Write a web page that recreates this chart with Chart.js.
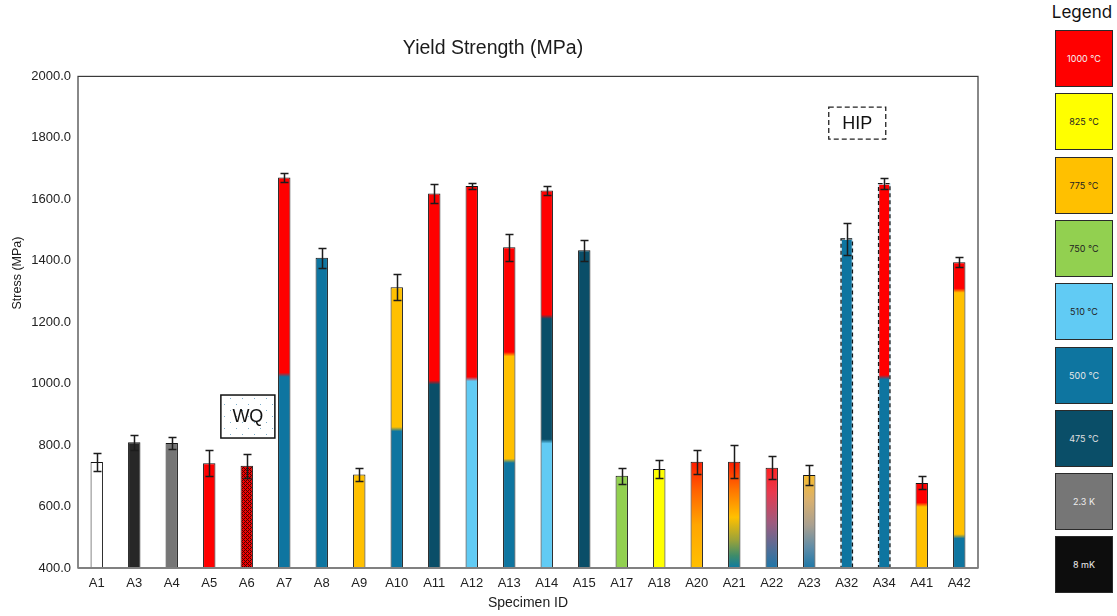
<!DOCTYPE html>
<html>
<head>
<meta charset="utf-8">
<script src="https://cdn.jsdelivr.net/npm/chart.js@4.4.1/dist/chart.umd.min.js"></script>
<style>
html,body{margin:0;padding:0;background:#fff;width:1117px;height:616px;overflow:hidden}
#wrap{position:absolute;left:0;top:0;width:985px;height:616px}
#legend{position:absolute;left:1055px;top:0;width:58px;height:616px}
#legend .hd{position:absolute;left:-16px;width:86px;top:2px;line-height:26px;text-align:center;font:17px Inter,"Noto Sans",sans-serif;color:#111}
#legend .sw{position:absolute;left:0;width:58px;height:57px;box-sizing:border-box;border:1.5px solid #2a2a2a;display:flex;align-items:center;justify-content:center;font:9px Inter,"Noto Sans",sans-serif}
</style>
</head>
<body>
<div id="wrap"><canvas id="chart" width="985" height="616"></canvas></div>
<div id="legend"><div class="hd">Legend</div></div>
<script>
const specimens = ['A1','A3','A4','A5','A6','A7','A8','A9','A10','A11','A12','A13','A14','A15','A17','A18','A20','A21','A22','A23','A32','A34','A41','A42']
const yieldMean = [745,809,807,741,733,1671,1410,704,1314,1619,1643,1444,1629,1434,700,722,746,746,726,703,1471,1651,677,1395]
const yieldErr  = [29,24,19,43,39,16,33,20,42,32,10,44,15,34,25,29,39,53,37,32,51,17,21,16]

// heat treatment layers, bottom to top, and the stress where one layer gives way to the next
const treatment = [
  ['none'],['8 mK'],['2.3 K'],['1000 °C'],['1000 °C'],
  ['500 °C','1000 °C'],['500 °C'],['775 °C'],['500 °C','775 °C'],['475 °C','1000 °C'],
  ['510 °C','1000 °C'],['500 °C','775 °C','1000 °C'],['510 °C','475 °C','1000 °C'],['475 °C'],
  ['750 °C'],['825 °C'],null,null,null,null,
  ['500 °C'],['500 °C','1000 °C'],['775 °C','1000 °C'],['500 °C','775 °C','1000 °C']
]
const treatmentBreaks = [
  [],[],[],[],[],
  [1029],[],[],[852],[1004],
  [1015],[749,1096],[812,1218],[],
  [],[],null,null,null,null,
  [],[1021],[606],[503,1303]
]
// specimens with a continuous colour blend: [stress, colour] from top to bottom
const blendStops = {
  A20: [[746,'#FF1A00'],[650,'#FF6400'],[540,'#FFA600'],[400,'#FFC000']],
  A21: [[746,'#FF1A00'],[655,'#FF7400'],[565,'#FFC000'],[490,'#9AA23A'],[440,'#3E8C6A'],[400,'#0E7AA3']],
  A22: [[726,'#FF2020'],[645,'#E83A50'],[545,'#9C5C80'],[460,'#4F6E98'],[400,'#1E76A8']],
  A23: [[703,'#F8BC2C'],[620,'#D8B070'],[540,'#AAA090'],[465,'#5E8CA8'],[400,'#1E78A8']]
}
const wqSpecimens = ['A6']
const hipSpecimens = ['A32','A34']

const legendLabels = ['1000 °C','825 °C','775 °C','750 °C','510 °C','500 °C','475 °C','2.3 K','8 mK']
const legendColors = ['#FF0000','#FFFF00','#FFC000','#92D050','#61CBF4','#0E75A0','#0A4E68','#767676','#0D0D0D']
const legendInk    = ['#f4f4f4','#222','#222','#222','#222','#e8e8e8','#e0e0e0','#eee','#eee']

const shades = {}
legendLabels.forEach((l,i)=>{ shades[l] = legendColors[i] })
shades['none'] = '#FFFFFF'
shades['8 mK'] = '#272727'

const FONT = '"Liberation Sans", Arial, sans-serif'

// legend column
const legendBox = document.getElementById('legend')
legendLabels.forEach((l,i)=>{
  const d = document.createElement('div')
  d.className = 'sw'
  d.style.top = Math.round(30 + i*63.3) + 'px'
  d.style.background = legendColors[i]
  d.style.color = legendInk[i]
  d.textContent = l
  legendBox.appendChild(d)
})

function wqPattern(){
  const c = document.createElement('canvas')
  c.width = 4
  c.height = 4
  const p = c.getContext('2d')
  p.fillStyle = '#F00000'
  p.fillRect(0,0,4,4)
  p.fillStyle = '#4a0000'
  const dots = [[0,0],[2,0],[1,1],[0,2],[2,2],[3,3]]
  dots.forEach(d => p.fillRect(d[0],d[1],1,1))
  return p.createPattern(c,'repeat')
}

function dotPattern(){
  const c = document.createElement('canvas')
  c.width = 12
  c.height = 12
  const p = c.getContext('2d')
  p.fillStyle = '#ffffff'
  p.fillRect(0,0,12,12)
  p.fillStyle = '#7fb0cc'
  p.fillRect(2,2,1,1)
  p.fillRect(8,8,1,1)
  return p.createPattern(c,'repeat')
}

function barFill(ctx){
  const chart = ctx.chart
  const i = ctx.dataIndex
  const y = chart.scales.y
  if (!chart.chartArea || i === undefined || !y) return '#ffffff'
  const name = specimens[i]
  if (wqSpecimens.includes(name)) return wqPattern()
  const top = yieldMean[i]
  const bottom = y.min
  const g = chart.ctx.createLinearGradient(0, y.getPixelForValue(bottom), 0, y.getPixelForValue(top))
  const frac = v => Math.min(1, Math.max(0, (v - bottom) / (top - bottom)))
  const stops = blendStops[name]
  if (stops){
    stops.forEach(s => g.addColorStop(frac(s[0]), s[1]))
    return g
  }
  const keys = treatment[i]
  const br = treatmentBreaks[i]
  g.addColorStop(0, shades[keys[0]])
  br.forEach((b,k)=>{
    g.addColorStop(frac(b - 7), shades[keys[k]])
    g.addColorStop(frac(b + 7), shades[keys[k+1]])
  })
  g.addColorStop(1, shades[keys[keys.length-1]])
  return g
}

const extras = {
  id:'extras',
  afterDatasetsDraw(chart){
    const {ctx, chartArea:a, scales:{x,y}} = chart
    const bars = chart.getDatasetMeta(0).data
    ctx.save()

    // dashed outline for the HIP specimens
    hipSpecimens.forEach(name=>{
      const b = bars[specimens.indexOf(name)]
      const l = b.x - b.width/2 + 0.5, r = b.x + b.width/2 - 0.5
      const bot = Math.min(b.base, a.bottom)
      ctx.lineWidth = 1.3
      ctx.strokeStyle = '#cfe7f3'
      ctx.setLineDash([])
      ctx.strokeRect(l, b.y, r-l, bot-b.y)
      ctx.strokeStyle = '#151515'
      ctx.setLineDash([4,3])
      ctx.strokeRect(l, b.y, r-l, bot-b.y)
    })
    ctx.setLineDash([])

    // error bars
    ctx.strokeStyle = '#1c1c1c'
    ctx.lineWidth = 1.5
    bars.forEach((b,i)=>{
      const hi = Math.round(y.getPixelForValue(yieldMean[i] + yieldErr[i])) + 0.5
      const lo = Math.round(y.getPixelForValue(yieldMean[i] - yieldErr[i])) + 0.5
      const cx = Math.round(b.x) + 0.5
      ctx.beginPath()
      ctx.moveTo(cx, hi)
      ctx.lineTo(cx, lo)
      ctx.moveTo(cx-4, hi)
      ctx.lineTo(cx+4, hi)
      ctx.moveTo(cx-4, lo)
      ctx.lineTo(cx+4, lo)
      ctx.stroke()
    })

    // plot frame
    ctx.lineWidth = 1.2
    ctx.strokeStyle = '#3a3a3a'
    ctx.strokeRect(a.left, a.top, a.right-a.left, a.bottom-a.top)
    ctx.lineWidth = 2
    ctx.strokeStyle = '#808080'
    ctx.beginPath()
    ctx.moveTo(a.left, a.bottom)
    ctx.lineTo(a.right, a.bottom)
    ctx.stroke()

    // WQ note, above A6
    let cx = x.getPixelForValue(4.03), cy = y.getPixelForValue(893)
    ctx.fillStyle = dotPattern()
    ctx.fillRect(cx-27, cy-21.5, 54, 43)
    ctx.lineWidth = 1.5
    ctx.strokeStyle = '#111'
    ctx.strokeRect(cx-27, cy-21.5, 54, 43)
    ctx.fillStyle = '#111'
    ctx.font = '18px ' + FONT
    ctx.textAlign = 'center'
    ctx.textBaseline = 'middle'
    ctx.fillText('WQ', cx, cy+1)

    // HIP note
    cx = x.getPixelForValue(20.28)
    cy = y.getPixelForValue(1848)
    ctx.fillStyle = '#fff'
    ctx.fillRect(cx-28.5, cy-16, 57, 32)
    ctx.setLineDash([5,3])
    ctx.strokeStyle = '#222'
    ctx.lineWidth = 1.3
    ctx.strokeRect(cx-28.5, cy-16, 57, 32)
    ctx.setLineDash([])
    ctx.fillStyle = '#111'
    ctx.fillText('HIP', cx, cy+1)

    // axis titles
    ctx.font = '14px ' + FONT
    ctx.fillStyle = '#1a1a1a'
    ctx.fillText('Specimen ID', (a.left+a.right)/2, 603)
    ctx.font = '12.5px ' + FONT
    ctx.translate(18, 273)
    ctx.rotate(-Math.PI/2)
    ctx.fillText('Stress (MPa)', 0, 0)
    ctx.restore()
  }
}

new Chart(document.getElementById('chart'), {
  type:'bar',
  data:{
    labels:specimens,
    datasets:[{
      label:'Yield Strength',
      data:yieldMean,
      backgroundColor:barFill,
      borderColor:ctx => hipSpecimens.includes(specimens[ctx.dataIndex]) ? 'rgba(0,0,0,0)' : '#141414',
      borderWidth:1,
      barPercentage:0.33,
      categoryPercentage:1
    }]
  },
  options:{
    responsive:false,
    animation:false,
    devicePixelRatio:1,
    layout:{padding:{left:8,right:7,top:0,bottom:0}},
    plugins:{
      legend:{display:false},
      tooltip:{enabled:false},
      title:{
        display:true,
        text:'Yield Strength (MPa)',
        color:'#1a1a1a',
        font:{family:FONT,size:19.5,weight:'normal'},
        padding:{top:37,bottom:16}
      }
    },
    scales:{
      x:{
        grid:{display:false,drawTicks:false},
        border:{display:false},
        ticks:{color:'#222',font:{family:FONT,size:13},padding:8,maxRotation:0,autoSkip:false},
        afterFit:s=>{ s.height = 48 }
      },
      y:{
        min:400,
        max:2000,
        grid:{display:false,drawTicks:false},
        border:{display:false},
        ticks:{stepSize:200,color:'#222',font:{family:FONT,size:13},padding:7,callback:v=>v.toFixed(1)},
        afterFit:s=>{ s.width = 70 }
      }
    }
  },
  plugins:[extras]
})
</script>
</body>
</html>
